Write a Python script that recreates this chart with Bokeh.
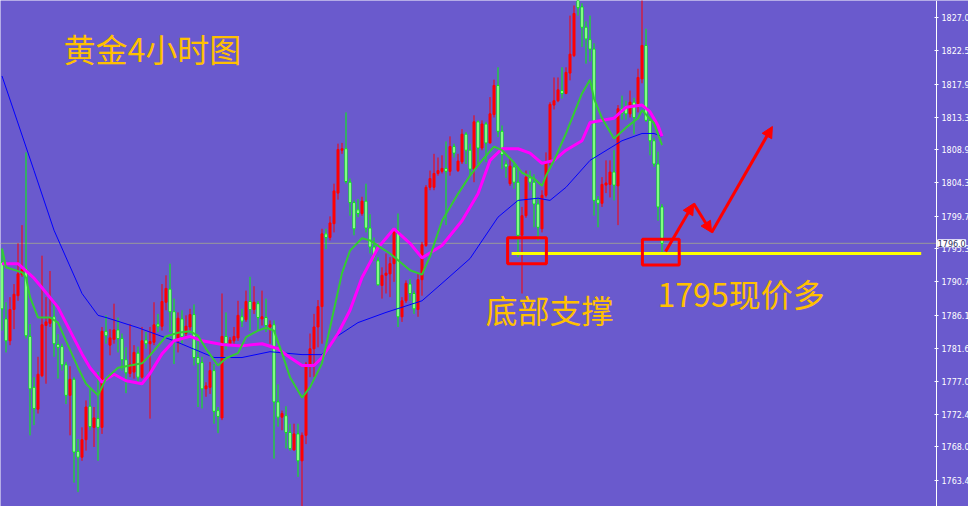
from bokeh.plotting import figure
from bokeh.models import Range1d, FixedTicker, NumeralTickFormatter, Label, Arrow, NormalHead, ColumnDataSource
from bokeh.embed import file_html
from bokeh.resources import INLINE

# ---------------- data ----------------
opens = [1793.4, 1785.6, 1782.6, 1786.9, 1788.8, 1791.7, 1792.5, 1783.2, 1776.2, 1773.2,
         1777.8, 1784.7, 1785.0, 1785.9, 1782.1, 1781.8, 1779.3, 1775.1, 1777.3, 1767.4,
         1766.6, 1769.0, 1773.6, 1770.7, 1771.9, 1770.7, 1783.9, 1782.0, 1782.8, 1784.1,
         1782.9, 1780.0, 1778.1, 1778.3, 1780.9, 1777.6, 1782.7, 1782.2, 1782.4, 1784.9,
         1784.6, 1787.9, 1789.7, 1786.6, 1782.6, 1785.6, 1783.6, 1784.5, 1786.2, 1780.3,
         1779.6, 1776.0, 1776.2, 1778.5, 1773.0, 1772.0, 1783.2, 1782.2, 1782.6, 1783.0,
         1785.9, 1785.5, 1788.0, 1786.9, 1787.7, 1785.6, 1785.8, 1784.5, 1784.8, 1774.2,
         1772.1, 1772.3, 1770.0, 1767.6, 1769.8, 1766.1, 1769.6, 1779.4, 1781.5, 1784.5,
         1787.3, 1797.3, 1796.8, 1798.7, 1802.9, 1808.8, 1809.0, 1804.4, 1801.6, 1800.6,
         1800.1, 1801.8, 1798.1, 1795.5, 1793.6, 1790.2, 1791.6, 1791.8, 1793.2, 1797.8,
         1785.9, 1788.1, 1790.4, 1789.1, 1786.9, 1791.0, 1795.7, 1803.7, 1803.7, 1805.6,
         1805.9, 1806.3, 1805.9, 1809.3, 1806.0, 1807.2, 1811.0, 1808.8, 1806.2, 1812.7,
         1809.1, 1812.4, 1809.8, 1813.7, 1817.7, 1811.4, 1806.9, 1804.2, 1806.5, 1804.4,
         1797.1, 1799.8, 1805.0, 1804.4, 1801.4, 1798.0, 1802.6, 1807.2, 1815.0, 1815.6,
         1817.0, 1816.6, 1819.4, 1821.8, 1829.9, 1828.5, 1825.7, 1824.0, 1822.7, 1802.0,
         1801.5, 1804.0, 1804.1, 1805.8, 1803.9, 1814.5, 1814.6, 1813.8, 1815.4, 1815.2,
         1818.6, 1823.2, 1812.9, 1810.1, 1806.9, 1801.0]
highs = [1795.2, 1787.9, 1788.6, 1790.4, 1796.0, 1798.5, 1808.5, 1784.9, 1777.6, 1780.4,
         1794.3, 1788.6, 1792.2, 1787.9, 1783.5, 1782.2, 1779.7, 1779.1, 1777.6, 1769.1,
         1770.7, 1774.4, 1776.0, 1773.5, 1778.3, 1784.5, 1786.1, 1784.2, 1787.7, 1785.8,
         1783.6, 1781.7, 1784.9, 1782.0, 1781.8, 1784.5, 1783.8, 1784.5, 1787.9, 1786.3,
         1790.4, 1791.6, 1793.2, 1788.4, 1786.5, 1786.8, 1786.1, 1787.0, 1787.6, 1782.6,
         1780.4, 1776.9, 1779.7, 1779.4, 1773.5, 1789.1, 1786.5, 1783.1, 1784.5, 1788.1,
         1787.0, 1789.5, 1791.4, 1790.1, 1788.1, 1789.5, 1788.4, 1785.4, 1785.4, 1776.6,
         1773.0, 1773.6, 1771.2, 1771.2, 1771.2, 1770.0, 1779.7, 1783.6, 1786.3, 1788.2,
         1798.0, 1798.0, 1799.7, 1804.2, 1809.7, 1809.8, 1814.0, 1804.9, 1801.9, 1802.1,
         1802.4, 1804.2, 1800.0, 1796.8, 1794.1, 1792.7, 1794.6, 1794.1, 1798.0, 1800.1,
         1788.6, 1790.9, 1791.1, 1789.5, 1791.8, 1796.2, 1804.0, 1806.0, 1808.3, 1807.8,
         1808.1, 1810.0, 1810.7, 1809.7, 1808.3, 1811.7, 1811.3, 1809.7, 1813.6, 1812.9,
         1812.9, 1812.7, 1816.1, 1818.5, 1820.2, 1812.2, 1807.4, 1807.8, 1807.0, 1806.5,
         1801.0, 1806.0, 1806.0, 1805.5, 1802.3, 1803.3, 1808.5, 1815.4, 1818.8, 1818.8,
         1820.2, 1820.2, 1827.3, 1828.7, 1830.5, 1829.0, 1826.5, 1827.3, 1823.5, 1802.5,
         1805.1, 1807.4, 1807.4, 1808.8, 1815.0, 1816.3, 1815.6, 1817.0, 1816.0, 1820.0,
         1831.0, 1825.5, 1813.0, 1810.5, 1808.6, 1801.4]
lows = [1784.0, 1781.0, 1782.0, 1784.2, 1788.1, 1791.4, 1782.9, 1769.6, 1771.0, 1772.6,
        1777.6, 1776.7, 1784.5, 1780.4, 1777.4, 1778.5, 1773.9, 1769.6, 1763.1, 1761.8,
        1766.1, 1767.5, 1770.3, 1768.0, 1766.1, 1769.8, 1782.2, 1780.6, 1782.2, 1781.0,
        1778.5, 1775.4, 1777.6, 1777.4, 1776.9, 1777.4, 1781.5, 1771.9, 1782.0, 1783.8,
        1784.0, 1786.8, 1783.8, 1779.4, 1781.0, 1782.2, 1783.1, 1783.8, 1779.2, 1773.5,
        1773.3, 1774.9, 1775.3, 1771.2, 1769.9, 1771.7, 1781.4, 1782.0, 1782.2, 1782.6,
        1784.5, 1785.2, 1784.0, 1786.3, 1784.0, 1784.7, 1783.8, 1782.2, 1766.4, 1770.8,
        1770.3, 1767.8, 1767.5, 1767.5, 1763.9, 1759.5, 1768.4, 1777.6, 1777.6, 1781.7,
        1782.2, 1795.2, 1796.4, 1797.5, 1802.0, 1808.3, 1804.2, 1799.8, 1797.1, 1799.6,
        1799.8, 1797.5, 1794.6, 1793.6, 1790.2, 1788.4, 1789.1, 1788.6, 1790.7, 1784.5,
        1785.2, 1787.8, 1788.1, 1786.3, 1785.9, 1788.8, 1795.5, 1803.3, 1803.3, 1805.3,
        1805.6, 1798.5, 1805.3, 1807.8, 1805.8, 1806.9, 1806.9, 1805.3, 1804.4, 1806.9,
        1808.8, 1807.2, 1809.7, 1813.3, 1810.6, 1806.2, 1805.0, 1803.9, 1803.5, 1794.1,
        1789.1, 1799.5, 1803.3, 1798.2, 1796.4, 1797.5, 1802.3, 1806.7, 1814.4, 1815.4,
        1815.9, 1816.5, 1818.4, 1821.6, 1827.3, 1823.0, 1820.7, 1821.0, 1799.8, 1798.2,
        1801.0, 1802.9, 1802.3, 1801.9, 1798.5, 1813.0, 1813.0, 1813.3, 1811.0, 1814.0,
        1818.0, 1812.7, 1808.1, 1806.5, 1799.1, 1794.8]
closes = [1787.0, 1782.6, 1786.9, 1789.0, 1791.8, 1792.4, 1783.3, 1776.0, 1773.3, 1778.0,
          1784.8, 1785.2, 1785.8, 1782.2, 1781.7, 1779.3, 1775.1, 1777.3, 1767.3, 1766.6,
          1769.0, 1773.5, 1770.8, 1772.0, 1770.7, 1783.9, 1783.3, 1783.0, 1784.1, 1782.9,
          1780.0, 1778.2, 1779.4, 1781.0, 1777.6, 1782.6, 1782.2, 1782.5, 1784.8, 1784.6,
          1788.0, 1789.8, 1786.6, 1782.6, 1785.7, 1783.2, 1784.6, 1786.2, 1780.3, 1779.5,
          1776.0, 1776.4, 1778.5, 1772.9, 1772.2, 1783.2, 1782.2, 1782.7, 1783.2, 1786.1,
          1785.3, 1788.0, 1786.9, 1787.9, 1785.8, 1785.9, 1784.7, 1784.8, 1774.2, 1772.1,
          1772.6, 1770.0, 1767.8, 1769.8, 1766.1, 1769.6, 1779.4, 1781.5, 1784.5, 1787.3,
          1797.3, 1796.8, 1798.8, 1803.2, 1808.9, 1809.0, 1804.5, 1801.6, 1798.0, 1800.1,
          1801.8, 1798.1, 1795.5, 1794.1, 1790.3, 1791.6, 1791.9, 1793.2, 1797.8, 1785.9,
          1788.1, 1790.5, 1789.1, 1787.0, 1791.0, 1795.8, 1803.7, 1804.9, 1805.6, 1806.0,
          1806.3, 1805.9, 1809.3, 1808.4, 1807.3, 1811.0, 1808.8, 1806.2, 1812.7, 1809.1,
          1812.4, 1809.8, 1813.8, 1817.7, 1811.4, 1808.2, 1806.5, 1806.6, 1804.4, 1797.1,
          1799.8, 1805.1, 1804.4, 1801.4, 1798.2, 1802.6, 1807.2, 1815.1, 1815.6, 1817.1,
          1816.6, 1819.5, 1822.0, 1827.6, 1828.4, 1825.7, 1824.1, 1822.7, 1801.9, 1801.5,
          1804.1, 1804.3, 1805.8, 1804.0, 1814.5, 1813.9, 1813.8, 1815.4, 1813.3, 1818.8,
          1823.2, 1812.9, 1810.1, 1806.9, 1801.0, 1796.0]

# moving averages read at sample bars
fast_ma_idx = [0, 1, 5, 6, 7, 9, 12, 14, 16, 19, 21, 24, 26, 29, 32, 35, 37, 41, 44, 47, 49,
               51, 54, 56, 59, 61, 64, 66, 68, 70, 72, 75, 77, 80, 82, 85, 87, 90, 92, 95,
               97, 102, 105, 107, 110, 114, 117, 120, 123, 125, 128, 130, 133, 135, 136,
               138, 141, 145, 147, 148, 150, 153, 156, 159, 160, 163, 165]
fast_ma = [1795.3, 1792.7, 1792.0, 1791.3, 1788.6, 1785.8, 1785.8, 1785.1, 1782.6, 1778.9,
           1776.7, 1775.1, 1777.4, 1778.9, 1779.2, 1779.5, 1780.6, 1783.2, 1783.7, 1783.9,
           1783.3, 1781.5, 1779.2, 1780.2, 1780.9, 1783.1, 1784.0, 1784.4, 1784.0, 1780.9,
           1777.6, 1774.8, 1776.2, 1779.5, 1784.4, 1791.9, 1795.0, 1796.7, 1796.4, 1795.3,
           1794.6, 1792.3, 1791.7, 1794.2, 1799.1, 1802.8, 1805.3, 1807.4, 1809.3, 1808.8,
           1807.1, 1805.7, 1804.9, 1803.9, 1805.3, 1807.4, 1811.1, 1816.6, 1818.5, 1815.9,
           1813.2, 1810.4, 1811.9, 1813.2, 1814.3, 1812.5, 1809.5]
mid_ma_idx = [0, 4, 8, 10, 14, 17, 20, 22, 25, 28, 31, 35, 37, 40, 43, 47, 50, 55, 60, 65,
              69, 72, 75, 78, 80, 84, 87, 90, 94, 98, 102, 105, 110, 115, 119, 122, 125,
              129, 132, 135, 138, 141, 145, 147, 153, 156, 160, 162, 164, 165]
mid_ma = [1793.2, 1793.2, 1791.2, 1789.9, 1787.2, 1784.0, 1780.8, 1778.9, 1776.9, 1778.0,
          1777.1, 1776.7, 1778.1, 1780.8, 1782.6, 1783.2, 1782.6, 1782.1, 1781.9, 1782.2,
          1781.5, 1780.3, 1779.2, 1779.2, 1780.3, 1783.6, 1786.8, 1791.3, 1795.4, 1798.0,
          1796.0, 1794.0, 1795.7, 1799.1, 1802.8, 1807.4, 1809.0, 1809.0, 1808.4, 1807.0,
          1807.4, 1808.8, 1810.1, 1812.6, 1813.2, 1814.7, 1815.0, 1814.1, 1812.2, 1810.7]
slow_ma_idx = [0, 8, 13, 20, 24, 26, 34, 43, 53, 60, 67, 75, 80, 84, 89, 96, 105, 110, 117,
               124, 129, 134, 137, 141, 147, 155, 160, 163, 165]
slow_ma = [1819.0, 1806.0, 1797.8, 1789.1, 1786.1, 1785.8, 1784.4, 1782.6, 1780.3, 1780.3,
           1781.1, 1780.7, 1780.7, 1783.3, 1785.1, 1786.5, 1788.1, 1790.5, 1793.9, 1799.6,
           1801.9, 1802.2, 1801.9, 1803.7, 1807.4, 1810.1, 1811.1, 1811.1, 1810.7]

tick_values = [1827.0, 1822.5, 1817.9, 1813.3, 1808.9, 1804.3, 1799.7, 1795.3,
               1790.7, 1786.1, 1781.6, 1777.0, 1772.4, 1768.0, 1763.4]
current_price = 1796.0
support_price = 1794.6
title_text = "黄金4小时图"
support_text = "底部支撑"
call_text = "1795现价多"

# ---------------- styling ----------------
BG = "#6A5ACD"
UP = "#FF0000"
DOWN = "#00FF00"
TXT = "#FFC000"
CJK = "Noto Sans CJK SC"
AXIS_X = 233.625          # bar-index position of the price scale line

p = figure(width=968, height=506,
           x_range=Range1d(-0.375, 241.625), y_range=Range1d(1759.82, 1829.38),
           x_axis_location=None, y_axis_location="right",
           toolbar_location=None, output_backend="svg", min_border=0,
           background_fill_color=BG, border_fill_color=BG, outline_line_color=None)
p.grid.visible = False

ax = p.yaxis[0]
ax.fixed_location = AXIS_X
ax.ticker = FixedTicker(ticks=tick_values)
ax.formatter = NumeralTickFormatter(format="0.0")
ax.axis_line_color = "white"
ax.major_tick_line_color = "white"
ax.major_tick_in = 2
ax.major_tick_out = 2
ax.minor_tick_line_color = None
ax.major_label_standoff = 3
ax.major_label_text_color = "white"
ax.major_label_text_font = "DejaVu Sans"
ax.major_label_text_font_size = "8px"

# bid line (up to the price scale)
p.segment(x0=[-0.375], y0=[current_price], x1=[AXIS_X], y1=[current_price],
          line_color="#9A9A9A", line_width=1)

# candles
idx = list(range(len(opens)))
is_up = [c >= o for o, c in zip(opens, closes)]
src = ColumnDataSource(dict(
    x=idx, high=highs, low=lows,
    top=[max(o, c) for o, c in zip(opens, closes)],
    bottom=[min(o, c) for o, c in zip(opens, closes)],
    line=[UP if u else DOWN for u in is_up],
    fill=[UP if u else "#FFFFFF" for u in is_up],
))
p.segment(x0="x", y0="low", x1="x", y1="high", line_color="line", line_width=1, source=src)
p.vbar(x="x", width=0.5, top="top", bottom="bottom", fill_color="fill",
       line_color="line", line_width=1, source=src)

# moving averages
p.line(slow_ma_idx, slow_ma, line_color="#0000FF", line_width=1)
p.line(mid_ma_idx, mid_ma, line_color="#FF00FF", line_width=3)
p.line(fast_ma_idx, fast_ma, line_color="#33CC33", line_width=2)

# support line and boxes
p.segment(x0=[127.4], y0=[support_price], x1=[229.8], y1=[support_price],
          line_color="#FFFF00", line_width=3)
p.quad(left=[126.4, 160.1], right=[136.1, 169.3], top=[1796.77, 1796.56],
       bottom=[1793.2, 1793.02], fill_color=None, line_color=UP, line_width=3)

# arrows
for (xs, ys, xe, ye) in [(165.9, 1794.88, 172.9, 1801.47),
                         (172.9, 1801.47, 177.4, 1797.49),
                         (177.4, 1797.49, 192.6, 1812.06)]:
    p.add_layout(Arrow(end=NormalHead(size=11, fill_color=UP, line_color=UP, line_width=1),
                       x_start=xs, y_start=ys, x_end=xe, y_end=ye,
                       line_color=UP, line_width=3))

# texts
p.add_layout(Label(x=15.4, y=1822.9, text=title_text, text_font=CJK, text_font_size="32px",
                   text_color=TXT, text_baseline="middle", text_align="left"))
p.add_layout(Label(x=120.9, y=1787.0, text=support_text, text_font=CJK, text_font_size="32px",
                   text_color=TXT, text_baseline="middle", text_align="left"))
p.add_layout(Label(x=163.9, y=1789.2, text=call_text, text_font=CJK, text_font_size="32px",
                   text_color=TXT, text_baseline="middle", text_align="left"))

# current price tag on the price scale
p.add_layout(Label(x=AXIS_X + 0.3, y=current_price, text="1796.0",
                   text_font="DejaVu Sans", text_font_size="8px", text_color="#303060",
                   text_baseline="middle", text_align="left", x_offset=0,
                   background_fill_color="white", border_line_color="white"))

open("out.html", "w").write(file_html(p, INLINE))
